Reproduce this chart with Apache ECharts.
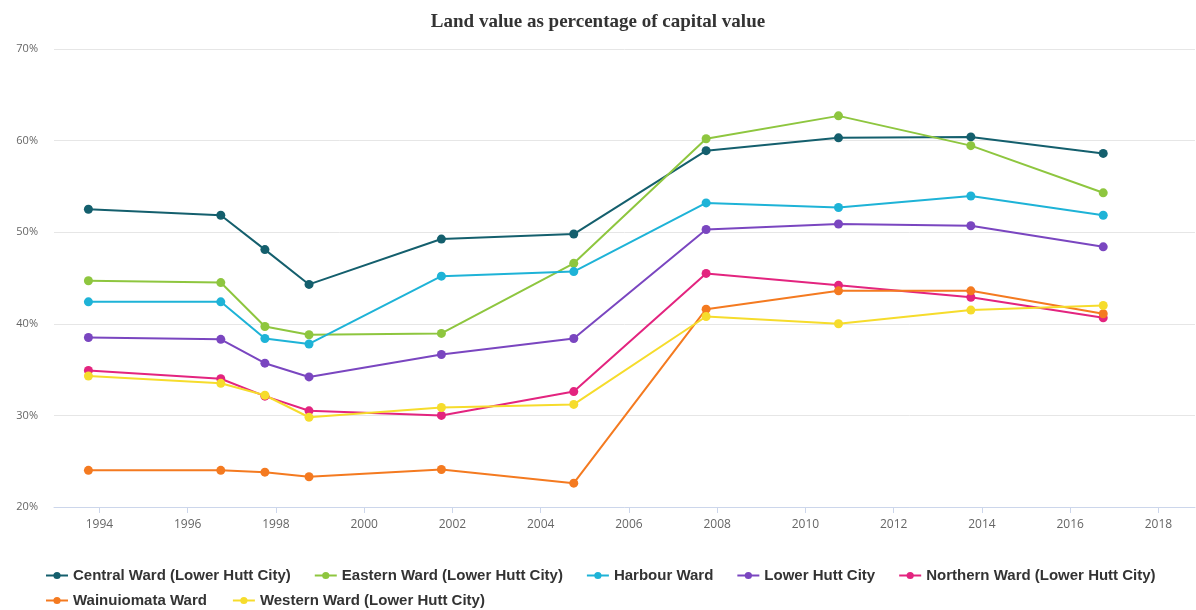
<!DOCTYPE html>
<html>
<head>
<meta charset="utf-8">
<title>Land value as percentage of capital value</title>
<script src="https://cdn.jsdelivr.net/npm/echarts@6/dist/echarts.min.js"></script>
<style>
  html, body { margin: 0; padding: 0; background: #ffffff; }
  #chart { width: 1196px; height: 610px; }
</style>
</head>
<body>
<div id="chart"></div>
<script>
// Valuation dates (decimal years) and land value as % of capital value per ward
const years = [1993.75, 1996.75, 1997.75, 1998.75, 2001.75, 2004.75, 2007.75, 2010.75, 2013.75, 2016.75];
const central     = [52.5, 51.85, 48.1, 44.3, 49.25, 49.8, 58.9, 60.3, 60.4, 58.6];
const eastern     = [44.7, 44.5, 39.7, 38.8, 38.95, 46.6, 60.2, 62.7, 59.45, 54.3];
const harbour     = [42.4, 42.4, 38.4, 37.8, 45.2, 45.7, 53.2, 52.7, 53.95, 51.85];
const lowerHutt   = [38.5, 38.3, 35.7, 34.2, 36.65, 38.4, 50.3, 50.9, 50.7, 48.4];
const northern    = [34.9, 34.0, 32.1, 30.5, 30.0, 32.6, 45.5, 44.2, 42.9, 40.65];
const wainuiomata = [24.0, 24.0, 23.8, 23.3, 24.1, 22.6, 41.6, 43.6, 43.6, 41.1];
const western     = [34.3, 33.5, 32.2, 29.8, 30.86, 31.2, 40.8, 40.0, 41.5, 42.0];

const seriesNames = [
  'Central Ward (Lower Hutt City)',
  'Eastern Ward (Lower Hutt City)',
  'Harbour Ward',
  'Lower Hutt City',
  'Northern Ward (Lower Hutt City)',
  'Wainuiomata Ward',
  'Western Ward (Lower Hutt City)'
];
const seriesValues = [central, eastern, harbour, lowerHutt, northern, wainuiomata, western];
const colors = ['#145f6d', '#8ec63f', '#1eb3d7', '#7a46c0', '#e3247f', '#f47a20', '#f6dc2c'];

const xTicks = [1994, 1996, 1998, 2000, 2002, 2004, 2006, 2008, 2010, 2012, 2014, 2016, 2018];
const yTicks = [20, 30, 40, 50, 60, 70];

const chart = echarts.init(document.getElementById('chart'), null, { renderer: 'canvas' });

const legendText = {
  fontFamily: '"Liberation Sans", Arial, sans-serif',
  fontWeight: 'bold',
  fontSize: 15,
  color: '#333333'
};

chart.setOption({
  animation: false,
  color: colors,
  title: {
    text: 'Land value as percentage of capital value',
    left: 'center',
    top: 8,
    textStyle: {
      fontFamily: '"Liberation Serif", "DejaVu Serif", serif',
      fontWeight: 'bold',
      fontSize: 19,
      color: '#333333'
    }
  },
  grid: { left: 54, right: 1, top: 49, bottom: 103, containLabel: false },
  xAxis: {
    type: 'value',
    min: 1992.97,
    max: 2018.83,
    axisLine: { show: true, lineStyle: { color: '#ccd6eb', width: 1 } },
    axisTick: { show: true, length: 6, lineStyle: { color: '#ccd6eb' }, customValues: xTicks },
    axisLabel: {
      customValues: xTicks,
      color: '#666666',
      fontSize: 12,
      fontFamily: '"Open Sans", "Liberation Sans", sans-serif',
      margin: 12,
      formatter: v => String(v)
    },
    splitLine: { show: false }
  },
  yAxis: {
    type: 'value',
    min: 20,
    max: 70,
    interval: 10,
    axisLine: { show: false },
    axisTick: { show: false },
    axisLabel: {
      customValues: yTicks,
      color: '#666666',
      fontSize: 11,
      fontFamily: '"Open Sans", "Liberation Sans", sans-serif',
      margin: 16,
      formatter: v => v + '%'
    },
    splitLine: { show: true, lineStyle: { color: '#e6e6e6', width: 1 } }
  },
  legend: [
    {
      data: seriesNames.slice(0, 5),
      left: 40,
      top: 563,
      itemWidth: 22,
      itemHeight: 9,
      itemGap: 23,
      textStyle: legendText
    },
    {
      data: seriesNames.slice(5),
      left: 40,
      top: 588,
      itemWidth: 22,
      itemHeight: 9,
      itemGap: 25,
      textStyle: legendText
    }
  ],
  series: seriesNames.map((name, i) => ({
    name: name,
    type: 'line',
    data: years.map((x, j) => [x, seriesValues[i][j]]),
    symbol: 'circle',
    symbolSize: 9,
    showSymbol: true,
    lineStyle: { width: 2, color: colors[i] },
    itemStyle: { color: colors[i] },
    emphasis: { disabled: true }
  }))
});
</script>
</body>
</html>
